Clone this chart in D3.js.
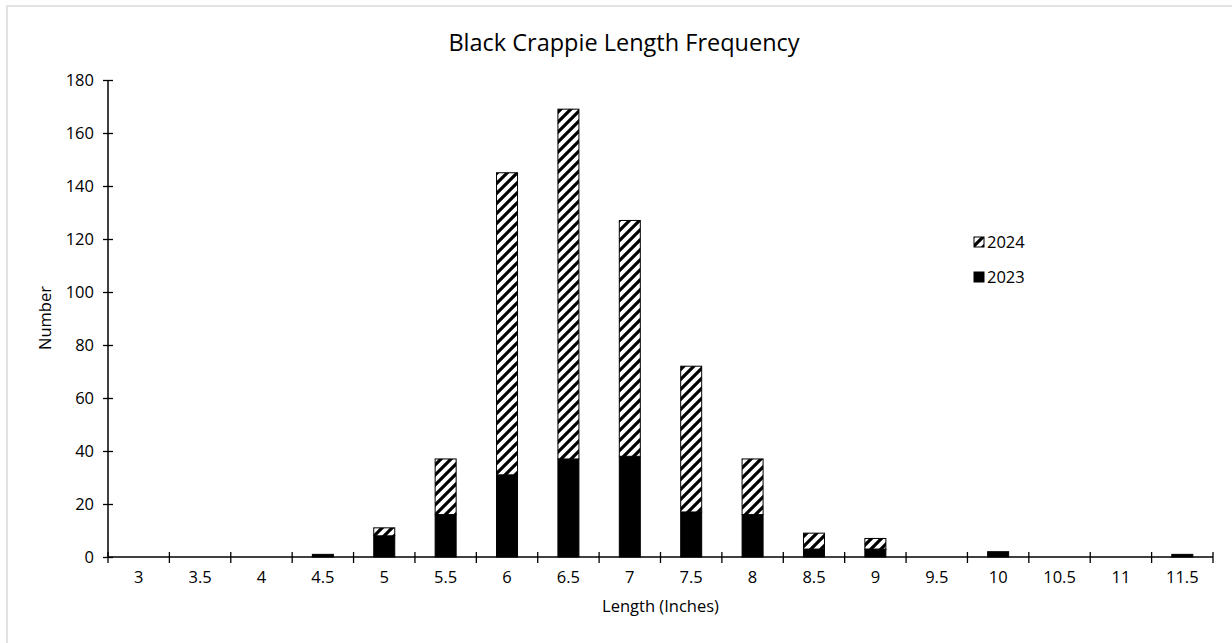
<!DOCTYPE html>
<html>
<head>
<meta charset="utf-8">
<script src="https://cdn.jsdelivr.net/npm/d3@7"></script>
<style>
  html, body { margin: 0; padding: 0; background: #fff; }
  svg { display: block; }
  text { font-family: "Open Sans", "Noto Sans", sans-serif; fill: #000; }
</style>
</head>
<body>
<svg id="chart" width="1232" height="643"></svg>
<script>
const categories = ["3","3.5","4","4.5","5","5.5","6","6.5","7","7.5","8","8.5","9","9.5","10","10.5","11","11.5"];
const values2023 = [0,0,0,1,8,16,31,37,38,17,16,3,3,0,2,0,0,1];
const values2024 = [0,0,0,0,3,21,114,132,89,55,21,6,4,0,0,0,0,0];
const seriesNames = ["2023","2024"];
const yTicks = [0,20,40,60,80,100,120,140,160,180];

const margin = { left: 108, right: 1213, top: 80, bottom: 557 };
const FS = "16.5px";

const svg = d3.select("#chart");

const T = 10;
const defs = svg.append("defs");
const pat = defs.append("pattern")
  .attr("id", "hatch")
  .attr("patternUnits", "userSpaceOnUse")
  .attr("width", T).attr("height", T);
pat.append("rect").attr("width", T).attr("height", T).attr("fill", "#fff");
pat.append("path")
  .attr("d", `M-3,3 L3,-3 M0,${T} L${T},0 M${T-3},${T+3} L${T+3},${T-3}`)
  .attr("stroke", "#000").attr("stroke-width", 3.2);

// outer chart border
svg.append("rect")
  .attr("x", 7).attr("y", 6)
  .attr("width", 1240).attr("height", 660)
  .attr("fill", "none").attr("stroke", "#d9d9d9").attr("stroke-width", 1.5);

const xb = d3.scaleBand().domain(categories).range([margin.left, margin.right]);
const y = d3.scaleLinear().domain([0, 180]).range([margin.bottom, margin.top]);
const barW = 21;

const data = categories.map((c, i) => ({ cat: c, v2023: values2023[i], v2024: values2024[i] }));
const stack = d3.stack().keys(["v2023", "v2024"])(data);
const fills = { v2023: "#000", v2024: "url(#hatch)" };

stack.forEach(layer => {
  svg.append("g").selectAll("rect")
    .data(layer.filter(d => d[1] - d[0] > 0))
    .join("rect")
    .attr("x", d => xb(d.data.cat) + (xb.bandwidth() - barW) / 2)
    .attr("width", barW)
    .attr("y", d => y(d[1]))
    .attr("height", d => y(d[0]) - y(d[1]))
    .attr("fill", fills[layer.key])
    .attr("stroke", "#000")
    .attr("stroke-width", 1);
});

// Y axis
const yAxis = d3.axisLeft(y).tickValues(yTicks).tickSize(0).tickPadding(14);
const gy = svg.append("g").attr("transform", `translate(${margin.left},0)`).call(yAxis);
gy.attr("font-size", null).attr("font-family", null);
gy.select(".domain").remove();
gy.selectAll("text").style("font-size", FS);
gy.selectAll(".tick").append("line").attr("x1", -5).attr("x2", 5).attr("stroke", "#000").attr("stroke-width", 1.3);
svg.append("line").attr("x1", margin.left).attr("x2", margin.left)
  .attr("y1", margin.top).attr("y2", margin.bottom).attr("stroke", "#000").attr("stroke-width", 1.5);

// X axis
const xAxis = d3.axisBottom(xb).tickSize(0).tickPadding(14);
const gx = svg.append("g").attr("transform", `translate(0,${margin.bottom})`).call(xAxis);
gx.attr("font-size", null).attr("font-family", null);
gx.select(".domain").remove();
gx.selectAll("text").style("font-size", FS);
const boundaries = categories.map(c => xb(c)).concat([margin.right]);
gx.selectAll("line.b").data(boundaries).join("line").attr("class", "b")
  .attr("x1", d => d).attr("x2", d => d).attr("y1", -5).attr("y2", 6)
  .attr("stroke", "#000").attr("stroke-width", 1.3);
svg.append("line").attr("x1", margin.left).attr("x2", margin.right)
  .attr("y1", margin.bottom).attr("y2", margin.bottom).attr("stroke", "#000").attr("stroke-width", 1.5);

// Title
svg.append("text").attr("x", 624).attr("y", 51).attr("text-anchor", "middle")
  .style("font-size", "23.5px").text("Black Crappie Length Frequency");

// Axis titles
svg.append("text").attr("x", (margin.left + margin.right) / 2).attr("y", 612).attr("text-anchor", "middle")
  .style("font-size", FS).text("Length (Inches)");
svg.append("text").attr("transform", "translate(51,318) rotate(-90)").attr("text-anchor", "middle")
  .style("font-size", FS).text("Number");

// Legend
const legend = [
  { name: seriesNames[1], fill: "url(#hatch)", y: 242 },
  { name: seriesNames[0], fill: "#000", y: 277 }
];
const lg = svg.append("g").selectAll("g").data(legend).join("g");
lg.append("rect").attr("x", 974).attr("y", d => d.y - 5).attr("width", 10).attr("height", 10)
  .attr("fill", d => d.fill).attr("stroke", "#000").attr("stroke-width", 1);
lg.append("text").attr("x", 987).attr("y", d => d.y + 6).style("font-size", FS).text(d => d.name);
</script>
</body>
</html>
